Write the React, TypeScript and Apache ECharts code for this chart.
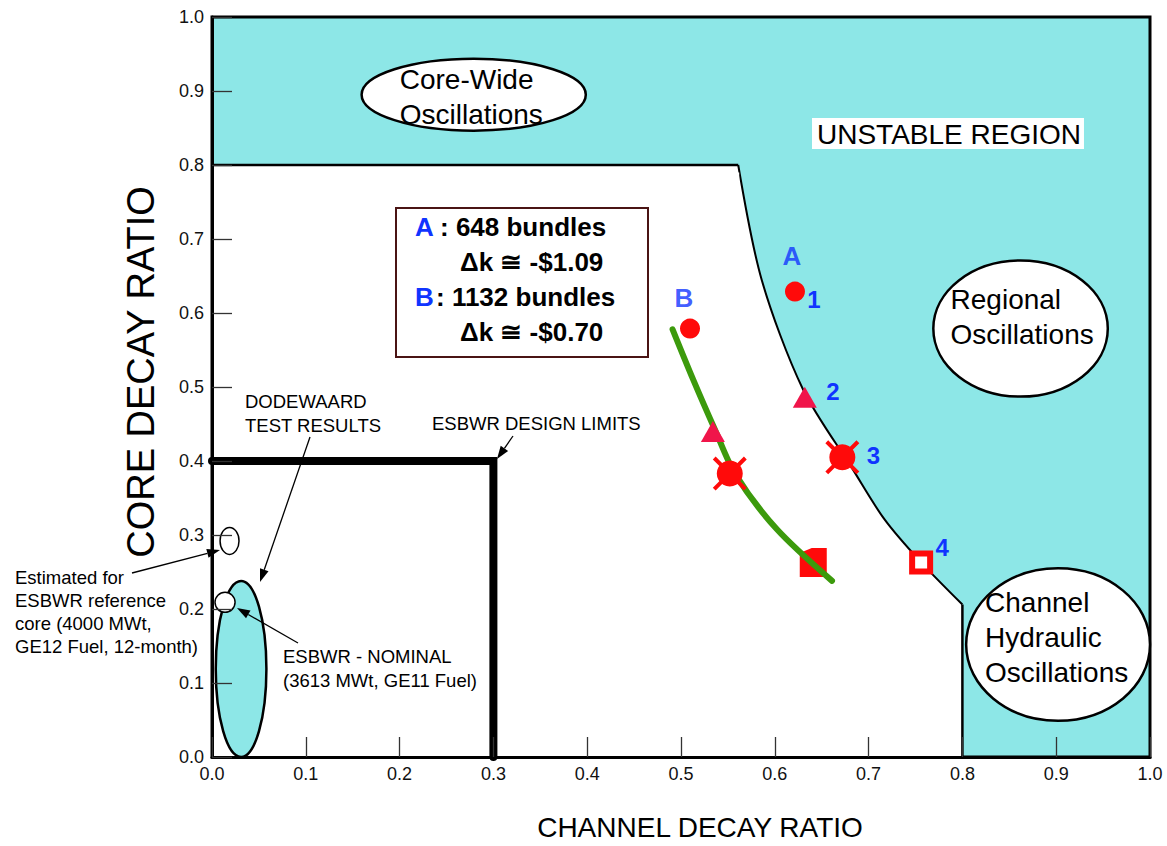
import React, { useEffect, useRef } from "react";
import * as echarts from "echarts";

const FONT = "'Liberation Sans', Arial, Helvetica, sans-serif";

// ---- data (in axis units) ----
const boundaryTop = [[0, 0.8], [0.561, 0.8]];
const boundaryCurve = [[0.561, 0.8], [0.586, 0.645], [0.63, 0.497], [0.683, 0.389], [0.717, 0.321], [0.756, 0.263], [0.8, 0.206]];
const boundaryDrop = [[0.8, 0.206], [0.8, 0]];
const seamCover = [[0.561, 0], [0.561, 0.79]];
const designLimits = [[0, 0.4], [0.3, 0.4], [0.3, 0]];
const trendB = [[0.491, 0.578], [0.513, 0.51], [0.536, 0.443], [0.558, 0.382], [0.602, 0.308], [0.661, 0.238]];
const caseA = [[0.6215, 0.629], [0.632, 0.486], [0.672, 0.405], [0.756, 0.263]];
const caseB = [[0.5096, 0.579], [0.534, 0.44], [0.552, 0.383], [0.641, 0.263]];
const pointNames = ["1", "2", "3", "4"];
const caseNames = ["A", "B"];
const regionNames = ["Core-Wide\nOscillations", "Regional\nOscillations", "Channel\nHydraulic\nOscillations"];
const regionShapes = [
  [0.279, 0.895, 0.1195, 0.0486],
  [0.862, 0.579, 0.093, 0.092],
  [0.902, 0.152, 0.098, 0.103],
];
const testShapes = [
  [0.031, 0.119, 0.027, 0.119],
  [0.0187, 0.292, 0.0101, 0.0182],
  [0.0139, 0.209, 0.0107, 0.0135],
];

// ---- styles ----
const CYAN = "#8de7e7";
const RED = "#ff0a0a";
const PINK = "#f0154a";
const BLUE = "#1034ff";
const regionTextOffset = [[-74, 2], [-70, -12], [-73, -7]];
const testFills = [CYAN, "#fff", "#fff"];
const testWidths = [2.5, 1.5, 1.5];
const labelOffsetsA = [[19, 8], [28, -6], [31, -2], [21, -15]];
const caseLabelOffsets = [[-3, -36], [-6, -31]];

function arrow(x1: number, y1: number, x2: number, y2: number) {
  const ang = Math.atan2(y2 - y1, x2 - x1);
  const L = 13, W = 4.5;
  const bx = x2 - L * Math.cos(ang), by = y2 - L * Math.sin(ang);
  const px = -Math.sin(ang) * W, py = Math.cos(ang) * W;
  return [
    { type: "line", shape: { x1, y1, x2: bx, y2: by }, style: { stroke: "#000", lineWidth: 1.3 }, z: 100 },
    { type: "polygon", shape: { points: [[x2, y2], [bx + px, by + py], [bx - px, by - py]] }, style: { fill: "#000" }, z: 100 },
  ];
}

function annText(text: string, x: number, y: number, size = 18.5, lh = 23.3, color = "#000", weight = "normal") {
  return {
    type: "text", x, y, z: 100,
    style: { text, fontSize: size, fontFamily: FONT, fill: color, lineHeight: lh, verticalAlign: "middle", align: "left", fontWeight: weight },
  };
}

export default function App() {
  const ref = useRef<HTMLDivElement>(null);
  useEffect(() => {
    const chart = echarts.init(ref.current!, null, { renderer: "svg" });
    const axisCommon = {
      type: "value", min: 0, max: 1, interval: 0.1, z: 10,
      axisLine: { show: true, lineStyle: { color: "#000", width: 3 } },
      axisTick: { show: true, inside: true, length: 20, lineStyle: { color: "#333", width: 1.3 } },
      axisLabel: { formatter: (v: number) => v.toFixed(1), fontSize: 18, color: "#111", fontFamily: FONT, margin: 8 },
      splitLine: { show: false },
    };
    const markerLabel = (text: string, off: number[], size = 24) => ({
      show: true, formatter: text, position: "inside", offset: off,
      color: BLUE, fontWeight: "bold", fontSize: size, fontFamily: FONT,
    });
    const option: any = {
      animation: false,
      grid: { left: 212, right: 17, top: 17, bottom: 88, show: true, backgroundColor: CYAN, borderColor: "#000", borderWidth: 3 },
      xAxis: {
        ...axisCommon,
        name: "CHANNEL DECAY RATIO", nameLocation: "middle", nameGap: 56,
        nameTextStyle: { fontSize: 28, color: "#000", fontFamily: FONT, padding: [0, 0, 0, 38] },
      },
      yAxis: {
        ...axisCommon,
        name: "CORE DECAY RATIO", nameLocation: "middle", nameGap: 52,
        nameTextStyle: { fontSize: 38, color: "#000", fontFamily: FONT, padding: [0, 0, 0, 30] },
      },
      series: [
        {
          name: "stable-top", type: "line", data: boundaryTop, showSymbol: false, z: 2,
          lineStyle: { color: "#000", width: 2.5 }, areaStyle: { color: "#fff", opacity: 1 },
        },
        {
          name: "stability-boundary", type: "line", data: boundaryCurve, showSymbol: false, smooth: 0.3, z: 2,
          lineStyle: { color: "#000", width: 2 }, areaStyle: { color: "#fff", opacity: 1 },
        },
        {
          name: "seam", type: "line", data: seamCover, showSymbol: false, z: 2, silent: true,
          lineStyle: { color: "#fff", width: 2 },
        },
        {
          name: "stable-drop", type: "line", data: boundaryDrop, showSymbol: false, z: 2,
          lineStyle: { color: "#000", width: 2.5 },
        },
        {
          name: "ESBWR design limits", type: "line", data: designLimits, showSymbol: false, z: 3,
          lineStyle: { color: "#000", width: 8, cap: "round", join: "miter" },
        },
        {
          name: "regions", type: "custom", data: regionShapes, encode: { x: 0, y: 1 }, z: 3, clip: false,
          renderItem: (params: any, api: any) => {
            const c = api.coord([api.value(0), api.value(1)]);
            const s = api.size([api.value(2), api.value(3)]);
            const i = params.dataIndex;
            return {
              type: "group",
              children: [
                { type: "ellipse", shape: { cx: c[0], cy: c[1], rx: s[0], ry: s[1] }, style: { fill: "#fff", stroke: "#000", lineWidth: 2.5 } },
                {
                  type: "text", x: c[0] + regionTextOffset[i][0], y: c[1] + regionTextOffset[i][1],
                  style: { text: regionNames[i], fontSize: 28, fontFamily: FONT, fill: "#000", lineHeight: 35, verticalAlign: "middle", align: "left" },
                },
              ],
            };
          },
        },
        {
          name: "test-results", type: "custom", data: testShapes, encode: { x: 0, y: 1 }, z: 3, clip: false,
          renderItem: (params: any, api: any) => {
            const c = api.coord([api.value(0), api.value(1)]);
            const s = api.size([api.value(2), api.value(3)]);
            const i = params.dataIndex;
            return { type: "ellipse", shape: { cx: c[0], cy: c[1], rx: s[0], ry: s[1] }, style: { fill: testFills[i], stroke: "#000", lineWidth: testWidths[i] } };
          },
        },
        {
          name: "B square", type: "scatter", data: [caseB[3]], z: 4,
          symbol: "path://M12,0L27,0L27,29L0,29L0,5Z", symbolSize: [27, 29],
          itemStyle: { color: RED, opacity: 1 },
        },
        {
          name: "B trend", type: "line", data: trendB, showSymbol: false, smooth: 0.3, z: 5,
          lineStyle: { color: "#3c9a0c", width: 6, cap: "round" },
        },
        {
          name: "circles", type: "scatter", symbol: "circle", symbolSize: 20, z: 6, itemStyle: { color: RED, opacity: 1 },
          data: [
            { value: caseA[0], label: markerLabel(pointNames[0], labelOffsetsA[0]) },
            { value: caseB[0] },
          ],
        },
        {
          name: "case names", type: "scatter", symbolSize: 0, z: 6,
          data: [
            { value: caseA[0], label: markerLabel(caseNames[0], caseLabelOffsets[0], 26) },
            { value: caseB[0], label: markerLabel(caseNames[1], caseLabelOffsets[1], 26) },
          ],
        },
        {
          name: "triangles", type: "scatter", symbol: "triangle", symbolSize: [24, 21], z: 6, itemStyle: { color: PINK, opacity: 1 },
          data: [
            { value: caseA[1], label: markerLabel(pointNames[1], labelOffsetsA[1]) },
            { value: caseB[1] },
          ],
        },
        {
          name: "cross arms", type: "scatter", z: 6, symbolRotate: 45, symbolSize: 44, itemStyle: { color: RED, opacity: 1 },
          symbol: "path://M-2,-22L2,-22L2,22L-2,22ZM-22,-2L22,-2L22,2L-22,2Z",
          data: [caseA[2], caseB[2]],
        },
        {
          name: "cross circles", type: "scatter", symbol: "circle", symbolSize: 26, z: 7, itemStyle: { color: RED, opacity: 1 },
          data: [
            { value: caseA[2], label: markerLabel(pointNames[2], labelOffsetsA[2]) },
            { value: caseB[2] },
          ],
        },
        {
          name: "A square", type: "scatter", symbol: "rect", symbolSize: 18, z: 7,
          itemStyle: { color: "#fff", borderColor: RED, borderWidth: 6, opacity: 1 },
          data: [{ value: caseA[3], label: markerLabel(pointNames[3], labelOffsetsA[3]) }],
        },
      ],
      graphic: [
        {
          type: "text", x: 812, y: 118, z: 100,
          style: { text: "UNSTABLE REGION", fontSize: 28, fontFamily: FONT, fill: "#000", backgroundColor: "#fff", padding: [2, 3, 1, 5] },
        },
        { type: "rect", shape: { x: 396, y: 208, width: 252, height: 149 }, style: { fill: "#fff", stroke: "#4a1414", lineWidth: 2 }, z: 99 },
        annText("A", 415, 227, 26, 30, BLUE, "bold"),
        annText(": 648 bundles", 440, 227, 26, 30, "#000", "bold"),
        annText("\u0394k \u2245 -$1.09", 460, 262, 26, 30, "#000", "bold"),
        annText("B", 415, 297, 26, 30, BLUE, "bold"),
        annText(": 1132 bundles", 436, 297, 26, 30, "#000", "bold"),
        annText("\u0394k \u2245 -$0.70", 460, 332, 26, 30, "#000", "bold"),
        annText("DODEWAARD\nTEST RESULTS", 245, 413.5),
        annText("ESBWR DESIGN LIMITS", 432, 423),
        annText("Estimated for\nESBWR reference\ncore (4000 MWt,\nGE12 Fuel, 12-month)", 15, 612),
        annText("ESBWR - NOMINAL\n(3613 MWt, GE11 Fuel)", 283, 668.5),
        ...arrow(513, 436, 497, 459),
        ...arrow(310, 437, 260, 582),
        ...arrow(132, 573, 220, 550),
        ...arrow(298, 643, 237, 608),
      ],
    };
    chart.setOption(option);
    return () => chart.dispose();
  }, []);
  return <div ref={ref} style={{ position: "fixed", left: 0, top: 0, width: 1167, height: 846, background: "#fff" }} />;
}
